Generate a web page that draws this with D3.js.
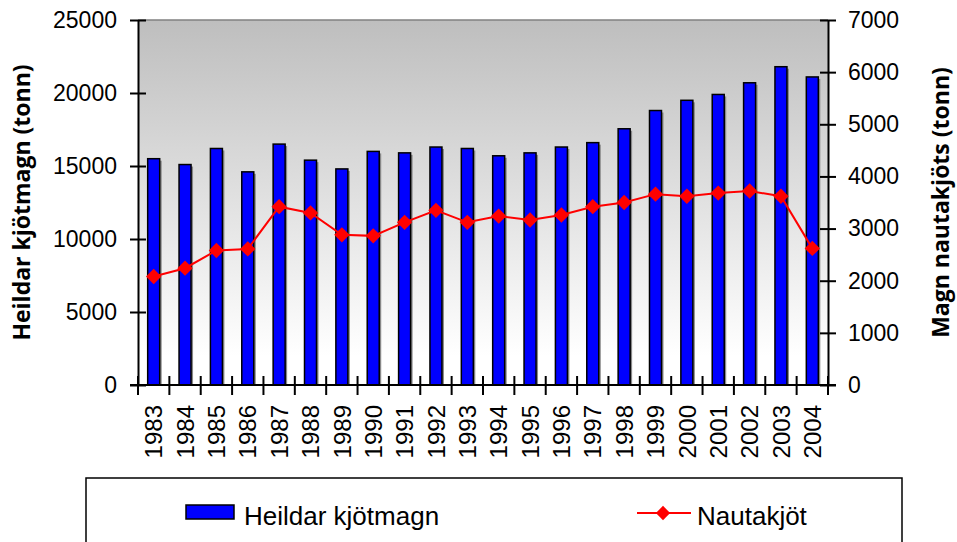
<!DOCTYPE html>
<html>
<head>
<meta charset="utf-8">
<script src="https://cdn.jsdelivr.net/npm/d3@7"></script>
<style>
  body { margin: 0; background: #fff; }
  text { font-family: "Liberation Sans", Arial, sans-serif; fill: #000; }
</style>
</head>
<body>
<svg width="957" height="542"></svg>
<script>
// years on the x axis
const years = ["1983","1984","1985","1986","1987","1988","1989","1990","1991","1992","1993",
               "1994","1995","1996","1997","1998","1999","2000","2001","2002","2003","2004"];
// Heildar kjötmagn (left axis, bars)
const total = [15500,15100,16200,14600,16500,15400,14800,16000,15900,16300,16200,
               15700,15900,16300,16600,17550,18800,19500,19900,20700,21800,21100];
// Nautakjöt (right axis, line)
const beef = [2080,2240,2580,2610,3420,3300,2880,2860,3120,3350,3120,
              3240,3165,3260,3420,3500,3660,3620,3680,3720,3620,2620];
const leftTicks = [0,5000,10000,15000,20000,25000];
const rightTicks = [0,1000,2000,3000,4000,5000,6000,7000];

const plot = {left: 138, right: 828, top: 20, bottom: 385};
const svg = d3.select("svg");

const x = d3.scaleBand().domain(years).range([plot.left, plot.right]);
const yL = d3.scaleLinear().domain([0, 25000]).range([plot.bottom, plot.top]);
const yR = d3.scaleLinear().domain([0, 7000]).range([plot.bottom, plot.top]);

// background gradient
const grad = svg.append("defs").append("linearGradient")
  .attr("id", "bg").attr("x1", 0).attr("y1", 0).attr("x2", 0).attr("y2", 1);
grad.append("stop").attr("offset", "0%").attr("stop-color", "#bebebe");
grad.append("stop").attr("offset", "92%").attr("stop-color", "#ffffff");
grad.append("stop").attr("offset", "100%").attr("stop-color", "#ffffff");

svg.append("rect")
  .attr("x", plot.left).attr("y", plot.top)
  .attr("width", plot.right - plot.left).attr("height", plot.bottom - plot.top)
  .attr("fill", "url(#bg)");
svg.append("line")
  .attr("x1", plot.left).attr("x2", plot.right)
  .attr("y1", plot.top).attr("y2", plot.top)
  .attr("stroke", "#808080").attr("stroke-width", 1.5);

// bars
const bw = 12;
const bars = svg.append("g");
bars.selectAll("rect.shadow").data(years).enter().append("rect")
  .attr("class", "shadow")
  .attr("x", d => x(d) + x.bandwidth() / 2 - bw / 2 + 2)
  .attr("y", (d, i) => yL(total[i]) + 2)
  .attr("width", bw).attr("height", (d, i) => plot.bottom - yL(total[i]) - 2)
  .attr("fill", "#888");
bars.selectAll("rect.bar").data(years).enter().append("rect")
  .attr("class", "bar")
  .attr("x", d => x(d) + x.bandwidth() / 2 - bw / 2)
  .attr("y", (d, i) => yL(total[i]))
  .attr("width", bw).attr("height", (d, i) => plot.bottom - yL(total[i]))
  .attr("fill", "#0000ff").attr("stroke", "#000").attr("stroke-width", 1.5);

// line
const line = d3.line()
  .x((d, i) => x(years[i]) + x.bandwidth() / 2)
  .y(d => yR(d));
svg.append("path").datum(beef)
  .attr("d", line).attr("fill", "none")
  .attr("stroke", "#ff0000").attr("stroke-width", 2);
svg.append("g").selectAll("path").data(beef).enter().append("path")
  .attr("d", d3.symbol().type(d3.symbolDiamond2).size(150))
  .attr("transform", (d, i) => `translate(${x(years[i]) + x.bandwidth() / 2},${yR(d)})`)
  .attr("fill", "#ff0000");

// left axis
const gL = svg.append("g").attr("transform", `translate(${plot.left},0)`)
  .call(d3.axisLeft(yL).tickValues(leftTicks).tickFormat(d3.format("d"))
    .tickSize(8).tickSizeOuter(0).tickPadding(13));
gL.selectAll(".tick line").attr("x1", 8).attr("x2", -8);

// right axis
const gR = svg.append("g").attr("transform", `translate(${plot.right},0)`)
  .call(d3.axisRight(yR).tickValues(rightTicks).tickFormat(d3.format("d"))
    .tickSize(8).tickSizeOuter(0).tickPadding(12));
gR.selectAll(".tick line").attr("x1", -8).attr("x2", 8);

// x axis
const gX = svg.append("g").attr("transform", `translate(0,${plot.bottom})`)
  .call(d3.axisBottom(x).tickSize(0).tickSizeOuter(0));
gX.select(".domain").attr("d", `M${plot.left - 8},0H${plot.right + 8}`);
gX.selectAll(".tick text")
  .attr("transform", "rotate(-90)")
  .attr("text-anchor", "end")
  .attr("x", -20).attr("y", 0).attr("dy", "0.36em");
gX.selectAll("line.sep").data(years.concat(["end"])).enter().append("line")
  .attr("class", "sep")
  .attr("x1", (d, i) => i < years.length ? x(d) : x(years[years.length - 1]) + x.bandwidth())
  .attr("x2", (d, i) => i < years.length ? x(d) : x(years[years.length - 1]) + x.bandwidth())
  .attr("y1", -9).attr("y2", 10)
  .attr("stroke", "#000");

[gL, gR, gX].forEach(g => {
  g.selectAll(".domain, line").attr("stroke", "#000").attr("stroke-width", 2);
  g.selectAll("text").style("font-family", "'Liberation Sans', Arial, sans-serif")
    .style("font-size", "23px").attr("fill", "#000");
});
gX.selectAll("text").style("font-size", "24px");

// axis titles
svg.append("text")
  .attr("transform", `translate(30,${(plot.top + plot.bottom) / 2}) rotate(-90)`)
  .attr("text-anchor", "middle")
  .style("font-family", "'Open Sans', sans-serif").style("font-weight", "bold").style("font-size", "23px")
  .text("Heildar kjötmagn (tonn)");
svg.append("text")
  .attr("transform", `translate(949,${(plot.top + plot.bottom) / 2}) rotate(-90)`)
  .attr("text-anchor", "middle")
  .style("font-family", "'Open Sans', sans-serif").style("font-weight", "bold").style("font-size", "23px")
  .text("Magn nautakjöts (tonn)");

// legend
const lg = svg.append("g");
lg.append("rect").attr("x", 86).attr("y", 478).attr("width", 816).attr("height", 80)
  .attr("fill", "#fff").attr("stroke", "#000").attr("stroke-width", 1.5);
lg.append("rect").attr("x", 186).attr("y", 505).attr("width", 48).attr("height", 14)
  .attr("fill", "#0000ff").attr("stroke", "#000").attr("stroke-width", 1.5);
lg.append("text").attr("x", 244).attr("y", 525).style("font-size", "26px").text("Heildar kjötmagn");
lg.append("line").attr("x1", 637).attr("x2", 691).attr("y1", 513).attr("y2", 513)
  .attr("stroke", "#ff0000").attr("stroke-width", 2);
lg.append("path").attr("d", d3.symbol().type(d3.symbolDiamond2).size(130))
  .attr("transform", "translate(663,513)").attr("fill", "#ff0000");
lg.append("text").attr("x", 697).attr("y", 525).style("font-size", "26px").text("Nautakjöt");
</script>
</body>
</html>
